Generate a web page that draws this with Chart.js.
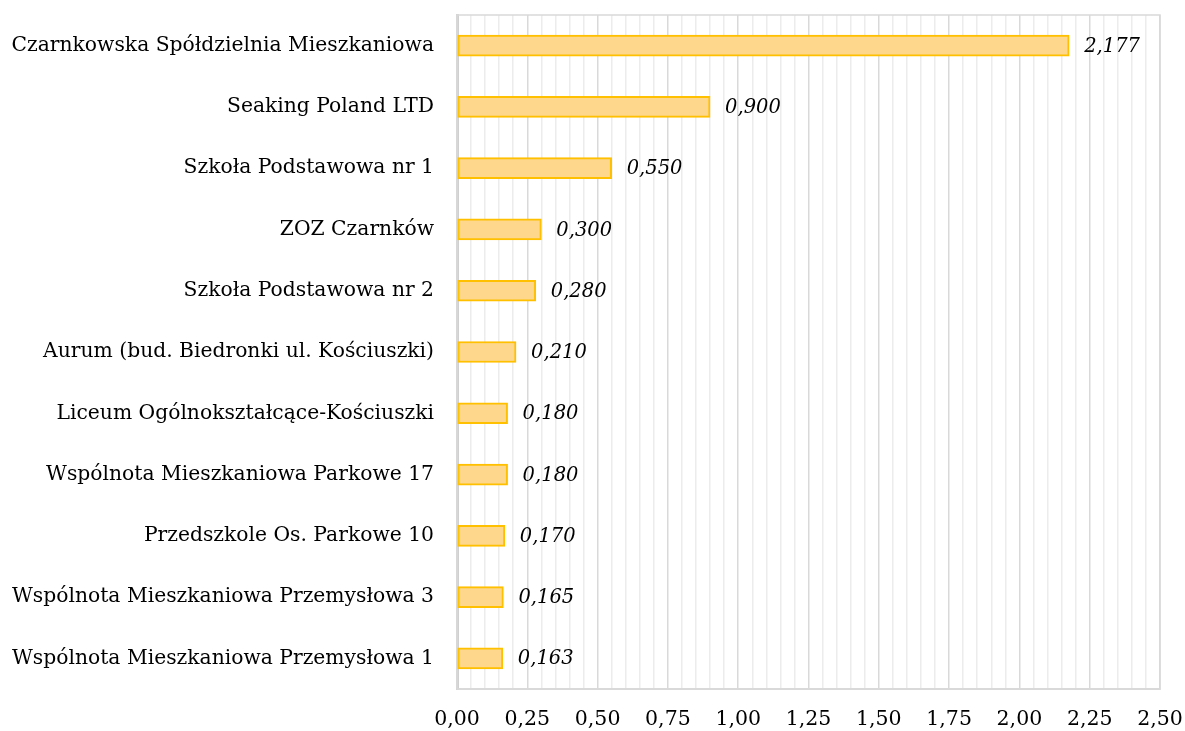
<!DOCTYPE html>
<html>
<head>
<meta charset="utf-8">
<script src="https://cdn.jsdelivr.net/npm/chart.js@4"></script>
<style>
  html, body { margin: 0; padding: 0; background: #fff; }
  #wrap { width: 1185px; height: 731px; }
</style>
</head>
<body>
<div id="wrap"><canvas id="chart"></canvas></div>
<script>
const categories = [
  'Czarnkowska Spółdzielnia Mieszkaniowa',
  'Seaking Poland LTD',
  'Szkoła Podstawowa nr 1',
  'ZOZ Czarnków',
  'Szkoła Podstawowa nr 2',
  'Aurum (bud. Biedronki ul. Kościuszki)',
  'Liceum Ogólnokształcące-Kościuszki',
  'Wspólnota Mieszkaniowa Parkowe 17',
  'Przedszkole Os. Parkowe 10',
  'Wspólnota Mieszkaniowa Przemysłowa 3',
  'Wspólnota Mieszkaniowa Przemysłowa 1'
];
const values = [2.177, 0.9, 0.55, 0.3, 0.28, 0.21, 0.18, 0.18, 0.17, 0.165, 0.163];
const xMin = 0;
const xMax = 2.5;
const xMinorStep = 0.05;

const FONT = 'DejaVu Serif';

// plot frame + value labels at bar ends
const extras = {
  id: 'extras',
  beforeDatasetsDraw(chart) {
    const { ctx, chartArea: a } = chart;
    ctx.save();
    ctx.strokeStyle = '#d9d9d9';
    ctx.lineWidth = 1.5;
    ctx.strokeRect(a.left, a.top, a.right - a.left, a.bottom - a.top);
    ctx.restore();
  },
  afterDatasetsDraw(chart) {
    const { ctx } = chart;
    const meta = chart.getDatasetMeta(0);
    ctx.save();
    ctx.font = 'italic 19.5px "' + FONT + '"';
    ctx.fillStyle = '#000';
    ctx.textBaseline = 'middle';
    meta.data.forEach((bar, i) => {
      ctx.fillText(values[i].toFixed(3).replace('.', ','), bar.x + 15, bar.y + 1);
    });
    ctx.restore();
  }
};

new Chart(document.getElementById('chart'), {
  type: 'bar',
  data: {
    labels: categories,
    datasets: [{
      data: values,
      backgroundColor: '#fed68c',
      borderColor: '#ffc000',
      borderWidth: 2,
      borderSkipped: false,
      barThickness: 21
    }]
  },
  options: {
    indexAxis: 'y',
    responsive: true,
    maintainAspectRatio: false,
    animation: false,
    layout: { padding: { top: 15, right: 25, left: 0, bottom: 0 } },
    plugins: {
      legend: { display: false },
      tooltip: { enabled: false }
    },
    scales: {
      x: {
        min: xMin,
        max: xMax,
        afterFit(scale) {
          scale.height = 42;
          scale.paddingLeft = 0;
          scale.paddingRight = 0;
        },
        ticks: {
          stepSize: xMinorStep,
          autoSkip: false,
          maxRotation: 0,
          padding: 18,
          color: '#000',
          font: { family: FONT, size: 20.5 },
          callback(value, index) {
            return index % 5 === 0 ? Number(value).toFixed(2).replace('.', ',') : '';
          }
        },
        grid: {
          drawTicks: false,
          color: ctx => (ctx.index % 5 === 0 ? '#d9d9d9' : '#ececec'),
          lineWidth: 1.5
        },
        border: { display: true, color: '#d9d9d9', width: 2 }
      },
      y: {
        afterFit(scale) {
          scale.width = 457;
          scale.paddingTop = 0;
          scale.paddingBottom = 0;
        },
        ticks: {
          padding: 23,
          color: '#000',
          font: { family: FONT, size: 20.3 }
        },
        grid: { display: false, drawTicks: false },
        border: { display: true, color: '#d0d0d0', width: 3 }
      }
    }
  },
  plugins: [extras]
});
</script>
</body>
</html>
